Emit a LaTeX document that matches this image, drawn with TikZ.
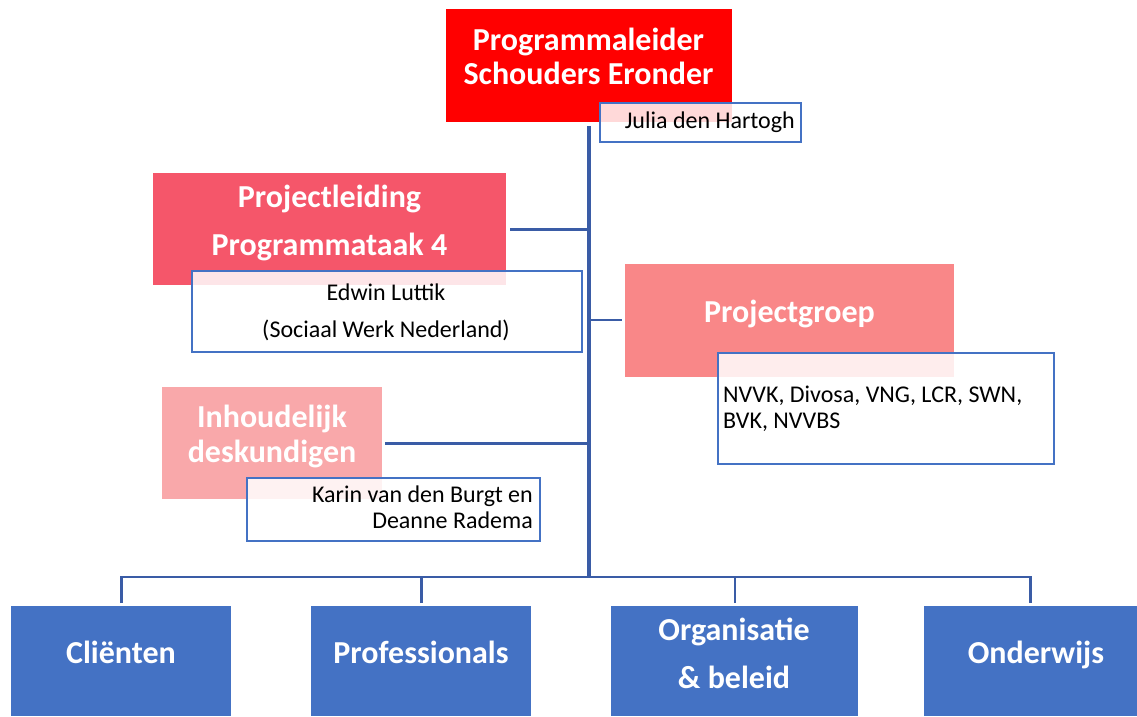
\documentclass[tikz,border=0pt]{standalone}
\usepackage{fontspec}
\setmainfont{Carlito}
\begin{document}
\begin{tikzpicture}[x=1pt,y=-1pt,
  orgbox/.style={rectangle, anchor=north west, inner sep=0pt},
  headtxt/.style={text=white, inner sep=0pt, align=center, anchor=base},
  personbox/.style={rectangle, anchor=north west, inner sep=0pt, draw=bluebord, line width=2pt, fill=white, fill opacity=0.85},
  persontxt/.style={inner sep=0pt, text=black},
  conn/.style={draw=linecol, line width=2.7pt},
  trunk/.style={draw=linecol, line width=3.6pt}]
\definecolor{bluebord}{HTML}{4472C4}
\definecolor{linecol}{HTML}{3A5CA6}
\definecolor{bluefill}{HTML}{4472C4}
\definecolor{plfill}{HTML}{F5566A}
\definecolor{pgfill}{HTML}{F98788}
\definecolor{idfill}{HTML}{F9A8AA}
\useasboundingbox (0,0) rectangle (1137,716);
% top
\node[orgbox, fill=red, minimum width=286pt, minimum height=113pt] (pm) at (446,9) {};
\node[headtxt, font=\bfseries\fontsize{32}{34}\selectfont] (pmt) at (588.5,84) {Programmaleider\\Schouders Eronder};
\node[personbox, minimum width=201pt, minimum height=39pt] (jh) at (599,102) {};
\node[persontxt, font=\fontsize{24}{26}\selectfont, anchor=base east] (jht) at (795,128) {Julia den Hartogh};
% projectleiding
\node[orgbox, fill=plfill, minimum width=353pt, minimum height=112pt] (pl) at (153,173) {};
\node[headtxt, font=\bfseries\fontsize{32}{48}\selectfont] (plt) at (329.5,255) {Projectleiding\\Programmataak 4};
\node[personbox, minimum width=390pt, minimum height=81pt] (el) at (191,270) {};
\node[persontxt, font=\fontsize{24}{37}\selectfont, align=center, anchor=base] (elt) at (386,337) {Edwin Luttik\\(Sociaal Werk Nederland)};
% projectgroep
\node[orgbox, fill=pgfill, minimum width=329pt, minimum height=113pt] (pg) at (625,264) {};
\node[headtxt, font=\bfseries\fontsize{32}{34}\selectfont] (pgt) at (789.5,322) {Projectgroep};
\node[personbox, minimum width=336pt, minimum height=111pt] (nv) at (717,352) {};
\node[persontxt, font=\fontsize{24}{26}\selectfont, align=left, anchor=base west] (nvt) at (723,428) {NVVK, Divosa, VNG, LCR, SWN,\\BVK, NVVBS};
% inhoudelijk
\node[orgbox, fill=idfill, minimum width=220pt, minimum height=112pt] (id) at (162,387) {};
\node[headtxt, font=\bfseries\fontsize{32}{35}\selectfont] (idt) at (272,462) {Inhoudelijk\\deskundigen};
\node[personbox, minimum width=293pt, minimum height=63pt] (kb) at (246,477) {};
\node[persontxt, font=\fontsize{24}{26}\selectfont, align=right, anchor=base east] (kbt) at (533,528) {Karin van den Burgt en\\Deanne Radema};
% bottom
\node[orgbox, fill=bluefill, minimum width=220pt, minimum height=110pt] (c1) at (11,606) {};
\node[orgbox, fill=bluefill, minimum width=220pt, minimum height=110pt] (c2) at (311,606) {};
\node[orgbox, fill=bluefill, minimum width=247pt, minimum height=110pt] (c3) at (611,606) {};
\node[orgbox, fill=bluefill, minimum width=213pt, minimum height=110pt] (c4) at (924,606) {};
\node[headtxt, font=\bfseries\fontsize{32}{48}\selectfont] (c1t) at (121,663) {Cliënten};
\node[headtxt, font=\bfseries\fontsize{32}{48}\selectfont] (c2t) at (421,663) {Professionals};
\node[headtxt, font=\bfseries\fontsize{32}{48}\selectfont] (c3t) at (734,688) {Organisatie\\\& beleid};
\node[headtxt, font=\bfseries\fontsize{32}{48}\selectfont] (c4t) at (1036,663) {Onderwijs};
% connectors
\coordinate (top) at (589,126);
\coordinate (bus) at (589,577);
\draw[conn] ([xshift=4pt]pl.east) -- (pl.east -| bus);
\draw[conn] (bus |- 0,320) -- ([xshift=-3pt]pg.west |- 0,320);
\draw[conn] ([xshift=3pt]id.east) -- (id.east -| bus);
\draw[conn] ([yshift=3pt]c1.north) |- (bus) -| ([yshift=3pt]c4.north);
\draw[conn] ([yshift=3pt]c2.north) -- (c2.north |- bus);
\draw[conn] ([yshift=3pt]c3.north -| 735,0) -- (735,577);
\draw[trunk] (top) -- (bus);
\end{tikzpicture}
\end{document}
